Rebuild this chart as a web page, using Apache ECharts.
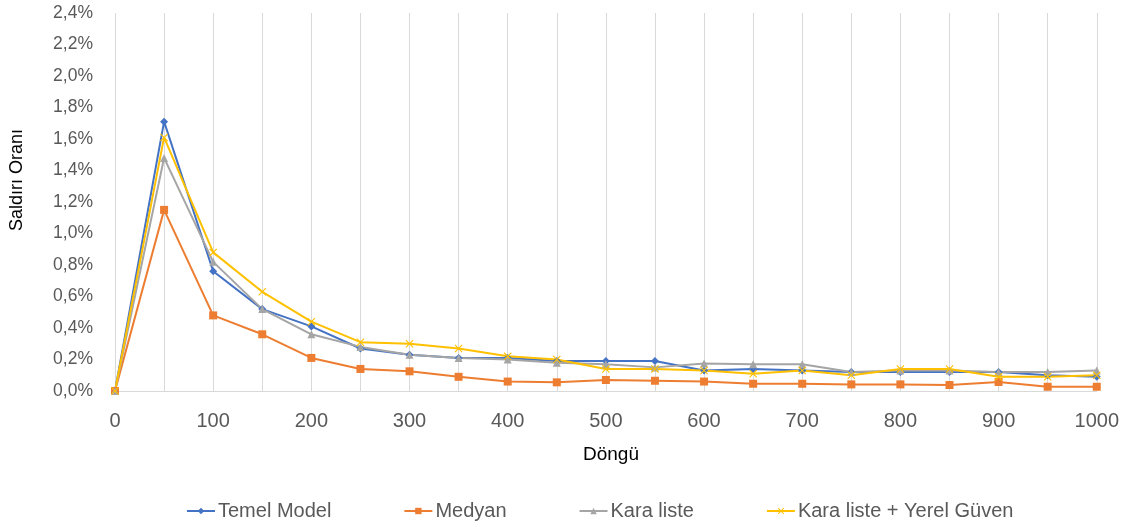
<!DOCTYPE html>
<html>
<head>
<meta charset="utf-8">
<script src="https://cdn.jsdelivr.net/npm/echarts@6/dist/echarts.min.js"></script>
<style>
  html, body { margin: 0; padding: 0; background: #fff; }
  #chart { width: 1122px; height: 527px; }
</style>
</head>
<body>
<div id="chart"></div>
<script>
// Cycle counts (x categories)
const cycles = ['0','50','100','150','200','250','300','350','400','450','500',
                '550','600','650','700','750','800','850','900','950','1000'];

// Attack rate per series, in percent
const temelModel = [0, 1.71, 0.76, 0.52, 0.41, 0.27, 0.23, 0.21, 0.21, 0.19, 0.19,
                    0.19, 0.13, 0.14, 0.13, 0.12, 0.12, 0.12, 0.12, 0.10, 0.09];
const medyan     = [0, 1.15, 0.48, 0.36, 0.21, 0.14, 0.125, 0.09, 0.06, 0.055, 0.07,
                    0.065, 0.06, 0.046, 0.046, 0.042, 0.042, 0.038, 0.057, 0.027, 0.027];
const karaListe  = [0, 1.48, 0.82, 0.52, 0.36, 0.28, 0.23, 0.21, 0.20, 0.18, 0.17,
                    0.15, 0.175, 0.17, 0.17, 0.12, 0.13, 0.13, 0.12, 0.12, 0.13];
const karaListeYerel = [0, 1.61, 0.88, 0.63, 0.44, 0.31, 0.30, 0.27, 0.22, 0.20, 0.14,
                    0.14, 0.13, 0.11, 0.13, 0.10, 0.14, 0.14, 0.09, 0.09, 0.10];

const seriesNames = ['Temel Model', 'Medyan', 'Kara liste', 'Kara liste + Yerel Güven'];

const FONT = '"Liberation Sans", Arial, sans-serif';
const TEXT_GREY = '#595959';
const GRID_GREY = '#d9d9d9';

// small filled "x" marker
const crossPath = 'path://M1,0 L5,4 L9,0 L10,1 L6,5 L10,9 L9,10 L5,6 L1,10 L0,9 L4,5 L0,1 Z';

function lineSeries(name, data, color, symbol, size) {
  return {
    name: name,
    type: 'line',
    data: data,
    symbol: symbol,
    symbolSize: size,
    showAllSymbol: true,
    lineStyle: { color: color, width: 2 },
    itemStyle: { color: color, borderWidth: 0 },
    emphasis: { disabled: true }
  };
}

const chart = echarts.init(document.getElementById('chart'), null, { renderer: 'canvas' });
chart.setOption({
  animation: false,
  backgroundColor: '#ffffff',
  grid: { left: 115, right: 25, top: 13, bottom: 136, containLabel: false },
  xAxis: {
    type: 'category',
    data: cycles,
    boundaryGap: false,
    axisLine: { show: true, lineStyle: { color: GRID_GREY, width: 1 } },
    axisTick: { show: false },
    axisLabel: {
      interval: 1, color: TEXT_GREY, fontFamily: FONT, fontSize: 20, margin: 20
    },
    splitLine: { show: true, interval: 0, lineStyle: { color: GRID_GREY, width: 1 } }
  },
  yAxis: {
    type: 'value',
    min: 0, max: 2.4, interval: 0.2,
    axisLine: { show: false },
    axisTick: { show: false },
    splitLine: { show: false },
    axisLabel: {
      color: TEXT_GREY, fontFamily: FONT, fontSize: 17.5, margin: 22,
      formatter: v => v.toFixed(1).replace('.', ',') + '%'
    }
  },
  legend: {
    left: 181, top: 496,
    itemWidth: 28, itemHeight: 8, itemGap: 72,
    textStyle: { color: TEXT_GREY, fontFamily: FONT, fontSize: 20, padding: [0, 0, 0, -2] },
    data: seriesNames
  },
  graphic: [
    {
      type: 'text', x: 611, y: 455,
      style: {
        text: 'Döngü', fill: '#000000', font: '19px ' + FONT,
        align: 'center', verticalAlign: 'middle'
      }
    },
    {
      type: 'text', x: 8, y: 180, rotation: Math.PI / 2,
      style: {
        text: 'Saldırı Oranı', fill: '#000000', font: '18px ' + FONT,
        align: 'center', verticalAlign: 'top'
      }
    }
  ],
  series: [
    lineSeries(seriesNames[0], temelModel, '#4472C4', 'diamond', 8),
    lineSeries(seriesNames[1], medyan, '#ED7D31', 'rect', 8),
    lineSeries(seriesNames[2], karaListe, '#A5A5A5', 'triangle', 8),
    lineSeries(seriesNames[3], karaListeYerel, '#FFC000', crossPath, 8)
  ]
});
</script>
</body>
</html>
